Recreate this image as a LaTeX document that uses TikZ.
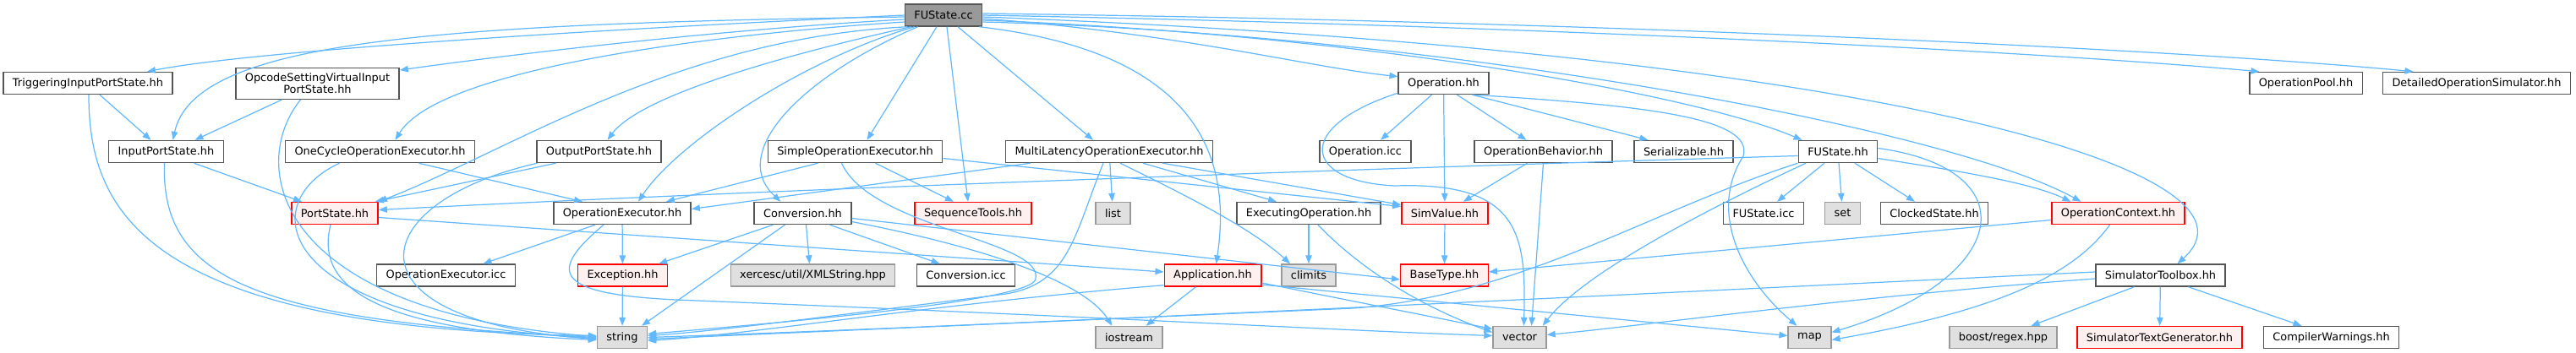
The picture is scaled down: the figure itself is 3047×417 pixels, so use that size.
\documentclass[tikz,border=0pt]{standalone}
\usepackage{fontspec}
\setmainfont{DejaVu Sans}
\usetikzlibrary{calc,arrows.meta}
\definecolor{incBlue}{HTML}{63B8FF}
\definecolor{boxGrey}{HTML}{555555}
\definecolor{extFill}{HTML}{E0E0E0}
\definecolor{extLine}{HTML}{999999}
\definecolor{truncFill}{HTML}{FFF0F0}
\definecolor{rootFill}{HTML}{999999}
\definecolor{rootLine}{HTML}{555555}

\begin{document}
\begin{tikzpicture}[x=0.01cm, y=-0.01cm,
      fn/.style={draw=boxGrey, fill=white, line width=0.4pt, minimum height=0.26cm,
                 inner xsep=0.11cm, inner ysep=1.8pt, align=center,
                 font=\fontsize{3.67pt}{3.98pt}\selectfont},
      ext/.style={fn, draw=extLine, fill=extFill},
      trunc/.style={fn, draw=red, fill=truncFill},
      rootbox/.style={fn, draw=rootLine, fill=rootFill},
      inc/.style={draw=incBlue, line width=0.35pt, -{Triangle[length=1mm,width=0.75mm]}}]
    \useasboundingbox (0,0) rectangle (3047,417);
    % nodes
    \node[rootbox] (fucc) at (1116,18) {FUState.cc};
    \node[fn] (trig)  at (104,98.5)   {TriggeringInputPortState.hh};
    \node[fn] (opc)   at (375.5,99)   {OpcodeSettingVirtualInput\\PortState.hh};
    \node[fn] (oper)  at (1707.5,98.5) {Operation.hh};
    \node[fn] (opool) at (2727.5,98.5) {OperationPool.hh};
    \node[fn] (dos)   at (2929.5,98.5) {DetailedOperationSimulator.hh};
    \node[fn] (inps)  at (196.5,179.5)  {InputPortState.hh};
    \node[fn] (onec)  at (449.5,179.5)  {OneCycleOperationExecutor.hh};
    \node[fn] (outps) at (708.5,179.5)  {OutputPortState.hh};
    \node[fn] (simp)  at (1011.5,179.5) {SimpleOperationExecutor.hh};
    \node[fn] (multi) at (1312,179.5)   {MultiLatencyOperationExecutor.hh};
    \node[fn] (opicc) at (1615,179.5)   {Operation.icc};
    \node[fn] (opbeh) at (1825.5,179.5) {OperationBehavior.hh};
    \node[fn] (seri)  at (1991.5,179.5) {Serializable.hh};
    \node[fn] (fush)  at (2174,179.5)   {FUState.hh};
    \node[trunc] (ports) at (396,252.5)  {PortState.hh};
    \node[fn] (opex)     at (736,252.5)  {OperationExecutor.hh};
    \node[fn] (conv)     at (949.5,252.5) {Conversion.hh};
    \node[trunc] (seqt)  at (1151,252.5) {SequenceTools.hh};
    \node[ext] (list)    at (1316.5,252.5) {list};
    \node[fn] (exop)     at (1548,252.5) {ExecutingOperation.hh};
    \node[trunc] (simv)  at (1709,252.5) {SimValue.hh};
    \node[fn] (fuicc)    at (2086,252.5) {FUState.icc};
    \node[ext] (set)     at (2179.5,252.5) {set};
    \node[fn] (clk)      at (2288,252.5) {ClockedState.hh};
    \node[trunc] (opctx) at (2505.5,252.5) {OperationContext.hh};
    \node[fn] (opexicc)  at (527.5,326)  {OperationExecutor.icc};
    \node[trunc] (exc)   at (736.5,326)  {Exception.hh};
    \node[ext] (xerc)    at (961.5,326)  {xercesc/util/XMLString.hpp};
    \node[fn] (convicc)  at (1142.5,326) {Conversion.icc};
    \node[trunc] (app)   at (1434.5,326) {Application.hh};
    \node[ext] (clim)    at (1548,326)   {climits};
    \node[trunc] (baset) at (1708.5,326) {BaseType.hh};
    \node[fn] (stb)      at (2555.5,326) {SimulatorToolbox.hh};
    \node[ext] (str)     at (736,399.5)    {string};
    \node[ext] (ios)     at (1335.5,399.5) {iostream};
    \node[ext] (vec)     at (1797.5,399.5) {vector};
    \node[ext] (map)     at (2140.5,399.5) {map};
    \node[ext] (boost)   at (2369.5,399.5) {boost/regex.hpp};
    \node[trunc] (stg)   at (2554.5,399.5) {SimulatorTextGenerator.hh};
    \node[fn] (cw)       at (2757.5,399.5) {CompilerWarnings.hh};
    % FUState.cc
    \draw[inc] (fucc.west) .. controls (700,35) and (300,60) .. ($(trig.north)+(70,0)$);
    \draw[inc] ($(fucc.west)+(0,2)$) .. controls (500,28) and (230,50) .. ($(inps.north)+(8,0)$);
    \draw[inc] ($(fucc.west)+(0,5)$) .. controls (850,35) and (600,65) .. ($(opc.east)+(0,-16)$);
    \draw[inc] ($(fucc.west)+(0,8)$) .. controls (850,40) and (520,80) .. ($(onec.north)+(18,0)$);
    \draw[inc] ($(fucc.south west)+(4,0)$) .. controls (800,45) and (600,180) .. (ports.north east);
    \draw[inc] ($(fucc.south west)+(8,0)$) .. controls (950,60) and (760,110) .. ($(outps.north)+(10,0)$);
    \draw[inc] ($(fucc.south west)+(12,0)$) .. controls (950,70) and (800,170) .. ($(opex.north)+(19,0)$);
    \draw[inc] ($(fucc.south west)+(16,0)$) .. controls (950,90) and (860,180) .. ($(conv.north)+(-26,0)$);
    \draw[inc] ($(fucc.south)+(-8,0)$) -- ($(simp.north)+(14,0)$);
    \draw[inc] ($(fucc.south)+(4,0)$) -- ($(seqt.north)+(-6,0)$);
    \draw[inc] ($(fucc.south)+(17,0)$) -- ($(multi.north)+(-19,0)$);
    \draw[inc] ($(fucc.south east)+(-4,0)$) .. controls (1400,60) and (1460,170) .. ($(app.north)+(4,0)$);
    \draw[inc] ($(fucc.east)+(0,4)$) .. controls (1400,40) and (1550,80) .. ($(oper.west)+(0,-8)$);
    \draw[inc] ($(fucc.east)+(0,6)$) .. controls (1600,40) and (2000,110) .. ($(fush.north west)+(5,0)$);
    \draw[inc] ($(fucc.east)+(0,8)$) .. controls (1700,40) and (2300,150) .. ($(opctx.north)+(-44,0)$);
    \draw[inc] ($(fucc.east)+(0,2)$) .. controls (2200,60) and (2700,200) .. ($(stb.north)+(20,0)$);
    \draw[inc] (fucc.east) .. controls (1800,30) and (2400,60) .. ($(opool.north)+(-55,0)$);
    \draw[inc] ($(fucc.east)+(0,-2)$) .. controls (1900,25) and (2600,60) .. ($(dos.north)+(-75,0)$);
    % port states
    \draw[inc] ($(trig.south)+(14,0)$) -- ($(inps.north)+(-18,0)$);
    \draw[inc] ($(trig.south)+(1,0)$) .. controls (105,250) and (170,390) .. ($(str.west)+(0,-2)$);
    \draw[inc] ($(opc.south)+(-42,0)$) -- ($(inps.north)+(34,0)$);
    \draw[inc] ($(opc.south)+(-20,0)$) .. controls (290,200) and (330,370) .. ($(str.west)+(0,-1)$);
    \draw[inc] ($(inps.south)+(33,0)$) -- ($(ports.north)+(-39,0)$);
    \draw[inc] ($(inps.south)+(-2,0)$) .. controls (190,330) and (300,380) .. (str.west);
    \draw[inc] ($(onec.south)+(46,0)$) -- ($(opex.north)+(-47,0)$);
    \draw[inc] ($(onec.south)+(-48,0)$) .. controls (300,240) and (320,380) .. ($(str.west)+(0,1)$);
    \draw[inc] ($(outps.south)+(-51,0)$) -- ($(ports.north east)+(-4,0)$);
    \draw[inc] ($(outps.south)+(-73,0)$) .. controls (430,240) and (400,380) .. ($(str.west)+(0,2)$);
    \draw[inc] ($(ports.south)+(-5,0)$) .. controls (375,330) and (420,390) .. ($(str.west)+(0,3)$);
    \draw[inc] ($(ports.east)+(0,5)$) -- ($(app.west)+(0,-4)$);
    % executors
    \draw[inc] ($(opex.south)+(-32,0)$) -- ($(opexicc.north)+(44,0)$);
    \draw[inc] (opex) -- (exc);
    \draw[inc] ($(opex.south)+(-22,0)$) .. controls (650,320) and (650,348) .. (800,355)
      .. controls (1300,375) and (1600,392) .. ($(vec.west)+(0,-2)$);
    \draw[inc] ($(simp.south)+(-44,0)$) -- ($(opex.north east)+(-30,0)$);
    \draw[inc] ($(simp.south)+(24,0)$) -- ($(seqt.north)+(-23,0)$);
    \draw[inc] ($(simp.east)+(0,8)$) -- ($(simv.west)+(0,-8)$);
    \draw[inc] ($(simp.south)+(-16,0)$) .. controls (1030,270) and (1235,285) .. (1225,330)
      .. controls (1225,355) and (950,380) .. ($(str.east)+(0,-4)$);
    \draw[inc] ($(multi.south west)+(30,0)$) -- ($(opex.east)+(0,-5)$);
    \draw[inc] (multi) -- (list);
    \draw[inc] ($(multi.south)+(40,0)$) -- ($(exop.north)+(-38,0)$);
    \draw[inc] ($(multi.south)+(13,0)$) .. controls (1400,230) and (1480,270) .. ($(clim.north)+(-22,0)$);
    \draw[inc] ($(multi.south east)+(-60,0)$) -- ($(simv.west)+(0,-10)$);
    \draw[inc] ($(multi.south)+(-7,0)$) .. controls (1270,280) and (1265,335) .. (1190,348)
      .. controls (1000,372) and (850,392) .. ($(str.east)+(0,-2)$);
    \draw[inc] (exop) -- (clim);
    \draw[inc] ($(exop.south)+(11,0)$) .. controls (1620,330) and (1700,370) .. ($(vec.west)+(0,-6)$);
    % conversion
    \draw[inc] ($(conv.south)+(4,0)$) -- ($(xerc.north)+(-4,0)$);
    \draw[inc] ($(conv.south)+(32,0)$) -- ($(convicc.north)+(-31,0)$);
    \draw[inc] ($(conv.south)+(-21,0)$) -- ($(str.north)+(23,0)$);
    \draw[inc] ($(conv.south)+(-35,0)$) -- ($(exc.north east)+(-11,0)$);
    \draw[inc] ($(conv.east)+(0,6)$) -- ($(baset.west)+(0,5)$);
    \draw[inc] ($(conv.east)+(0,10)$) .. controls (1150,290) and (1280,330) .. ($(ios.north)+(-20,0)$);
    % operation
    \draw[inc] ($(oper.south)+(-14,0)$) -- ($(opicc.north)+(18,0)$);
    \draw[inc] (oper) -- (simv);
    \draw[inc] ($(oper.south)+(16,0)$) -- ($(opbeh.north)+(-20,0)$);
    \draw[inc] ($(oper.south east)+(-20,0)$) -- ($(seri.north)+(-42,0)$);
    \draw[inc] ($(oper.south west)+(0,-2)$) .. controls (1530,150) and (1540,215) .. (1650,220)
      .. controls (1800,215) and (1805,280) .. ($(vec.north)+(5,0)$);
    \draw[inc] ($(oper.south east)+(-20,0)$) .. controls (1950,125) and (2075,140) .. (2062,185)
      .. controls (2020,250) and (2060,330) .. ($(map.north)+(-15,0)$);
    \draw[inc] ($(opbeh.south)+(-19,0)$) -- ($(simv.north east)+(-30,0)$);
    \draw[inc] (opbeh.south) -- ($(vec.north)+(14,0)$);
    \draw[inc] (simv) -- (baset);
    % FUState.hh
    \draw[inc] ($(fush.south)+(-16,0)$) -- ($(fuicc.north)+(16,0)$);
    \draw[inc] (fush) -- (set);
    \draw[inc] ($(fush.south)+(20,0)$) -- ($(clk.north)+(-23,0)$);
    \draw[inc] ($(fush.east)+(0,8)$) .. controls (2300,200) and (2400,215) .. ($(opctx.north)+(-56,0)$);
    \draw[inc] ($(fush.west)+(0,5)$) .. controls (1600,200) and (900,225) .. ($(ports.east)+(0,-4)$);
    \draw[inc] (fush.south west) .. controls (1950,250) and (1800,350) .. (1600,365) -- ($(str.east)+(0,2)$);
    \draw[inc] ($(fush.south)+(-38,0)$) .. controls (1950,280) and (1860,340) .. ($(vec.north east)+(-5,0)$);
    \draw[inc] ($(fush.east)+(0,-4)$) .. controls (2400,200) and (2380,330) .. ($(map.east)+(0,-6)$);
    \draw[inc] ($(opctx.west)+(0,8)$) -- ($(baset.east)+(0,-4)$);
    \draw[inc] ($(opctx.south)+(-10,0)$) .. controls (2450,330) and (2350,370) .. ($(map.east)+(0,3)$);
    % application, toolbox
    \draw[inc] ($(app.south)+(-20,0)$) -- ($(ios.north)+(20,0)$);
    \draw[inc] ($(app.south west)+(0,-2)$) .. controls (1100,360) and (900,395) .. ($(str.east)+(0,4)$);
    \draw[inc] ($(app.east)+(0,9)$) -- ($(vec.west)+(0,-10)$);
    \draw[inc] ($(app.east)+(0,11)$) -- ($(map.west)+(0,-2)$);
    \draw[inc] ($(stb.south)+(-31,0)$) -- ($(boost.north)+(33,0)$);
    \draw[inc] (stb) -- (stg);
    \draw[inc] ($(stb.south)+(33,0)$) -- ($(cw.north)+(-35,0)$);
    \draw[inc] ($(stb.west)+(0,-4)$) .. controls (2000,345) and (1200,385) .. ($(str.east)+(0,0)$);
    \draw[inc] ($(stb.west)+(0,4)$) .. controls (2200,350) and (1950,385) .. ($(vec.east)+(0,-3)$);
    \draw[inc] (exc) -- (str);
  \end{tikzpicture}
\end{document}
